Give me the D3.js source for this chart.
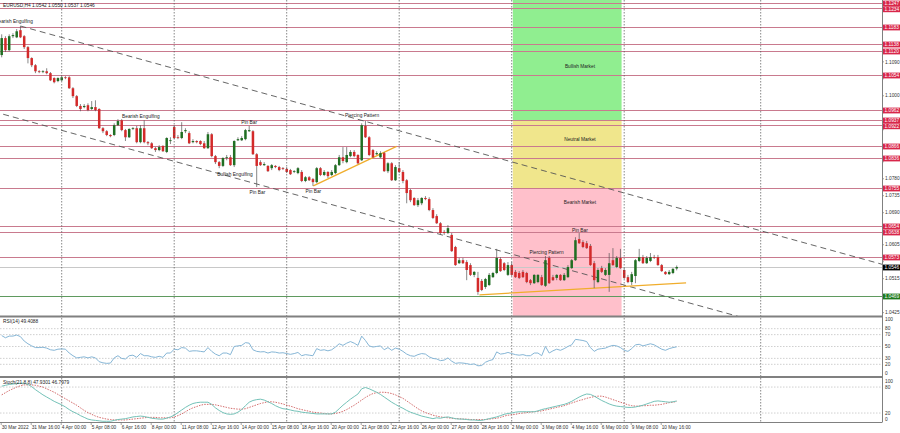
<!DOCTYPE html>
<html><head><meta charset="utf-8">
<script src="https://cdn.jsdelivr.net/npm/d3@7"></script>
<style>body{margin:0;background:#fff}svg{display:block;font-family:"Liberation Sans",Arial,sans-serif}</style>
</head><body><svg id="c" width="900" height="433"></svg>
<script>
// ---------------- DATA ----------------
const symbolTitle = "EURUSD,H4  1.0542 1.0550 1.0537 1.0546";
const rsiTitle = "RSI(14) 49.4088";
const stochTitle = "Stoch(21,8,8) 47.9301 46.7979";

const xLabelBars = [0,8,16,24,32,40,48,56,64,72,80,88,96,104,112,120,128,136,144,152,160,168,176];
const xLabels = ["30 Mar 2022","31 Mar 16:00","4 Apr 00:00","5 Apr 08:00","6 Apr 16:00","8 Apr 00:00","11 Apr 08:00","12 Apr 16:00","14 Apr 00:00","15 Apr 08:00","18 Apr 16:00","20 Apr 00:00","21 Apr 08:00","22 Apr 16:00","26 Apr 00:00","27 Apr 08:00","28 Apr 16:00","2 May 00:00","3 May 08:00","4 May 16:00","6 May 00:00","9 May 08:00","10 May 16:00"];
const gridBars = [16,46,76,106,136,166,202.4];

const open = [1.1108,1.1153,1.1121,1.1158,1.1155,1.1174,1.1158,1.1129,1.1100,1.1081,
1.1065,1.1063,1.1065,1.1060,1.1047,1.1039,1.1041,1.1049,1.1049,1.1020,
1.0999,1.0973,1.0970,1.0975,1.0965,1.0970,1.0965,1.0914,1.0906,1.0896,
1.0896,1.0922,1.0935,1.0909,1.0890,1.0912,1.0914,1.0877,1.0914,1.0877,
1.0874,1.0861,1.0856,1.0867,1.0851,1.0880,1.0917,1.0890,1.0888,1.0906,
1.0901,1.0877,1.0880,1.0880,1.0874,1.0861,1.0898,1.0840,1.0824,1.0814,
1.0835,1.0837,1.0816,1.0882,1.0882,1.0885,1.0906,1.0906,1.0845,1.0824,
1.0816,1.0814,1.0808,1.0814,1.0811,1.0808,1.0806,1.0803,1.0798,1.0795,
1.0798,1.0774,1.0784,1.0779,1.0771,1.0808,1.0790,1.0798,1.0790,1.0795,
1.0816,1.0837,1.0824,1.0840,1.0851,1.0843,1.0829,1.0920,1.0890,1.0856,
1.0845,1.0837,1.0848,1.0800,1.0821,1.0776,1.0808,1.0798,1.0776,1.0750,
1.0729,1.0710,1.0715,1.0729,1.0726,1.0697,1.0681,1.0662,1.0639,1.0636,
1.0631,1.0599,1.0556,1.0564,1.0559,1.0551,1.0525,1.0517,1.0509,1.0493,
1.0498,1.0519,1.0530,1.0567,1.0556,1.0525,1.0551,1.0533,1.0530,1.0533,
1.0530,1.0511,1.0503,1.0506,1.0519,1.0496,1.0570,1.0519,1.0517,1.0525,
1.0511,1.0519,1.0543,1.0564,1.0620,1.0612,1.0609,1.0602,1.0556,1.0506,
1.0543,1.0525,1.0525,1.0564,1.0546,1.0570,1.0538,1.0519,1.0506,1.0522,
1.0562,1.0572,1.0556,1.0562,1.0572,1.0572,1.0551,1.0533,1.0527,1.0530,
1.0542];
const high = [1.1163,1.1158,1.1163,1.1166,1.1177,1.1185,1.1161,1.1132,1.1102,1.1084,
1.1068,1.1068,1.1073,1.1063,1.1049,1.1049,1.1052,1.1052,1.1052,1.1023,
1.1002,1.0978,1.0978,1.0980,1.0986,1.0988,1.0967,1.0917,1.0909,1.0898,
1.0927,1.0938,1.0938,1.0912,1.0914,1.0917,1.0920,1.0922,1.0935,1.0880,
1.0877,1.0864,1.0869,1.0869,1.0890,1.0890,1.0922,1.0896,1.0930,1.0914,
1.0906,1.0885,1.0882,1.0882,1.0880,1.0904,1.0901,1.0843,1.0827,1.0837,
1.0843,1.0843,1.0882,1.0890,1.0893,1.0912,1.0920,1.0909,1.0848,1.0829,
1.0824,1.0816,1.0819,1.0816,1.0814,1.0811,1.0811,1.0806,1.0803,1.0811,
1.0803,1.0787,1.0787,1.0782,1.0811,1.0811,1.0803,1.0800,1.0803,1.0819,
1.0843,1.0864,1.0864,1.0856,1.0856,1.0845,1.0927,1.0933,1.0893,1.0859,
1.0853,1.0853,1.0851,1.0824,1.0824,1.0816,1.0824,1.0803,1.0779,1.0753,
1.0731,1.0729,1.0731,1.0734,1.0731,1.0702,1.0686,1.0665,1.0644,1.0657,
1.0636,1.0602,1.0570,1.0570,1.0564,1.0556,1.0535,1.0533,1.0514,1.0517,
1.0530,1.0533,1.0594,1.0572,1.0559,1.0559,1.0559,1.0538,1.0535,1.0538,
1.0533,1.0514,1.0527,1.0527,1.0525,1.0575,1.0575,1.0525,1.0527,1.0527,
1.0530,1.0551,1.0567,1.0625,1.0636,1.0617,1.0615,1.0607,1.0562,1.0543,
1.0549,1.0543,1.0583,1.0596,1.0575,1.0594,1.0543,1.0525,1.0533,1.0567,
1.0594,1.0578,1.0575,1.0583,1.0578,1.0578,1.0554,1.0535,1.0538,1.0543,
1.0550];
const low = [1.1102,1.1116,1.1118,1.1153,1.1153,1.1153,1.1124,1.1086,1.1076,1.1060,
1.1060,1.1060,1.1057,1.1039,1.1033,1.1036,1.1039,1.1044,1.1018,1.0994,
1.0970,1.0959,1.0967,1.0959,1.0962,1.0959,1.0912,1.0901,1.0893,1.0890,
1.0893,1.0920,1.0906,1.0880,1.0888,1.0909,1.0874,1.0874,1.0874,1.0869,
1.0859,1.0851,1.0853,1.0851,1.0848,1.0872,1.0885,1.0885,1.0885,1.0901,
1.0872,1.0874,1.0874,1.0869,1.0859,1.0859,1.0837,1.0819,1.0808,1.0811,
1.0829,1.0814,1.0811,1.0880,1.0880,1.0882,1.0904,1.0843,1.0758,1.0814,
1.0814,1.0798,1.0803,1.0808,1.0800,1.0803,1.0795,1.0790,1.0795,1.0792,
1.0771,1.0771,1.0774,1.0761,1.0768,1.0787,1.0787,1.0782,1.0787,1.0792,
1.0814,1.0821,1.0821,1.0837,1.0837,1.0819,1.0827,1.0888,1.0840,1.0835,
1.0843,1.0835,1.0798,1.0795,1.0774,1.0774,1.0795,1.0768,1.0715,1.0718,
1.0708,1.0705,1.0710,1.0723,1.0694,1.0673,1.0660,1.0633,1.0631,1.0633,
1.0586,1.0549,1.0554,1.0554,1.0511,1.0522,1.0519,1.0472,1.0482,1.0488,
1.0496,1.0517,1.0527,1.0533,1.0535,1.0522,1.0522,1.0517,1.0514,1.0517,
1.0503,1.0498,1.0501,1.0503,1.0496,1.0493,1.0501,1.0509,1.0511,1.0509,
1.0509,1.0517,1.0541,1.0562,1.0607,1.0596,1.0594,1.0549,1.0490,1.0503,
1.0530,1.0522,1.0480,1.0549,1.0543,1.0541,1.0514,1.0503,1.0498,1.0503,
1.0559,1.0554,1.0554,1.0559,1.0567,1.0549,1.0533,1.0525,1.0525,1.0527,
1.0537];
const close = [1.1153,1.1121,1.1158,1.1161,1.1171,1.1155,1.1129,1.1100,1.1081,1.1065,
1.1063,1.1065,1.1060,1.1041,1.1036,1.1047,1.1049,1.1047,1.1020,1.0999,
1.0973,1.0965,1.0973,1.0962,1.0970,1.0962,1.0914,1.0906,1.0896,1.0893,
1.0922,1.0933,1.0909,1.0890,1.0912,1.0914,1.0877,1.0914,1.0877,1.0874,
1.0861,1.0856,1.0864,1.0853,1.0888,1.0882,1.0888,1.0888,1.0904,1.0909,
1.0874,1.0880,1.0877,1.0872,1.0861,1.0898,1.0840,1.0824,1.0814,1.0835,
1.0837,1.0816,1.0880,1.0885,1.0888,1.0909,1.0909,1.0845,1.0814,1.0816,
1.0819,1.0800,1.0816,1.0811,1.0803,1.0806,1.0798,1.0792,1.0800,1.0808,
1.0774,1.0784,1.0776,1.0771,1.0808,1.0790,1.0798,1.0787,1.0798,1.0816,
1.0837,1.0827,1.0843,1.0851,1.0840,1.0821,1.0922,1.0890,1.0843,1.0837,
1.0848,1.0848,1.0800,1.0821,1.0776,1.0811,1.0798,1.0774,1.0742,1.0723,
1.0710,1.0723,1.0729,1.0726,1.0697,1.0676,1.0662,1.0636,1.0636,1.0649,
1.0588,1.0551,1.0564,1.0556,1.0538,1.0525,1.0533,1.0480,1.0485,1.0514,
1.0525,1.0530,1.0570,1.0535,1.0538,1.0551,1.0525,1.0519,1.0517,1.0519,
1.0506,1.0503,1.0525,1.0525,1.0498,1.0564,1.0503,1.0511,1.0525,1.0511,
1.0525,1.0546,1.0564,1.0617,1.0609,1.0599,1.0596,1.0551,1.0511,1.0538,
1.0533,1.0538,1.0556,1.0551,1.0570,1.0543,1.0517,1.0506,1.0527,1.0564,
1.0572,1.0556,1.0570,1.0572,1.0570,1.0551,1.0535,1.0527,1.0533,1.0541,
1.0546];

const rsi = [68.4,64.7,67.5,67.5,69.3,66.6,59.2,54.6,51.0,48.2,
48.2,48.7,47.3,44.5,43.6,45.5,45.9,45.5,39.0,34.5,
30.8,31.7,32.6,30.8,32.6,30.8,24.4,22.5,21.6,22.1,
30.8,34.5,29.9,29.0,34.5,35.4,31.7,38.1,34.5,34.5,
32.6,31.7,33.5,31.7,39.0,39.0,45.5,44.5,48.2,47.3,
41.8,42.7,42.7,41.8,40.9,48.2,41.8,37.2,34.5,39.0,
39.0,36.3,50.1,51.0,51.9,56.5,55.6,44.5,41.8,40.9,
41.3,39.0,40.9,40.4,39.0,39.5,38.1,36.8,38.1,40.0,
34.5,36.3,35.4,34.5,46.4,43.6,44.5,42.7,44.5,49.1,
54.6,51.9,55.6,58.3,55.6,51.9,67.5,60.1,51.0,49.1,
50.1,51.0,44.5,48.2,43.6,47.3,45.5,41.8,37.2,34.5,
33.5,36.3,38.1,37.2,32.6,29.9,29.0,26.2,27.1,30.8,
25.3,21.6,22.5,22.1,21.2,19.8,20.7,17.5,18.0,23.5,
26.2,28.0,40.9,37.2,38.1,40.0,38.1,36.3,35.4,36.3,
34.5,34.5,39.0,39.0,34.5,50.1,39.0,42.7,45.5,43.6,
46.4,50.1,52.8,62.0,61.1,60.1,58.3,48.2,41.8,45.5,
46.4,47.3,50.1,51.9,51.0,48.2,43.6,41.8,46.4,52.8,
53.7,51.0,52.8,54.6,52.8,49.1,45.5,43.6,46.4,48.2,
49.4];
const rsiLevels = [80,70,50,30,20];
const rsiTickLabels = [100,80,70,50,30,20,0];

const stochMain = [82,84,86,87,88,89,89,86,81,74,
68,62,57,52,47,43,39,34,28,23,
19,14,10,6,4,3,2,1,1,1,
3,5,6,7,9,11,12,13,12,10,
8,7,6,6,8,11,15,21,27,33,
38,42,44,45,45,45,40,32,26,21,
18,17,18,22,28,37,45,49,51,52,
50,46,42,37,33,30,29,27,25,24,
22,21,20,19,18,18,18,18,18,22,
30,38,45,52,58,64,76,79,76,72,
68,63,57,51,45,40,35,31,26,22,
19,16,13,11,9,7,9,8,10,11,
9,7,6,6,5,4,4,3,3,5,
7,9,11,14,17,19,20,22,23,23,
23,23,23,25,28,30,32,34,36,38,
40,43,47,52,57,61,64,63,59,54,
49,45,41,38,36,35,34,33,33,34,
36,38,41,44,47,48,47,46,45,46,
47.9];
const stochSignal = [62,67,72,76,80,83,85,85,85,84,
82,80,76,72,68,63,58,53,48,43,
38,32,26,21,17,13,10,8,6,5,
4,4,4,4,5,6,7,8,9,10,
10,10,9,9,9,9,11,14,18,23,
28,32,35,38,40,40,40,39,37,35,
33,31,30,29,29,30,33,36,39,42,
44,46,46,45,43,41,38,36,33,30,
28,26,24,22,21,20,19,18,18,19,
21,24,28,33,38,44,50,56,61,65,
67,68,68,67,65,62,58,54,48,42,
36,30,25,21,18,15,13,11,10,9,
8,7,7,6,6,5,5,5,5,5,
6,7,8,10,13,15,16,17,19,20,
21,22,23,24,25,27,29,31,33,35,
37,40,43,46,49,51,54,56,58,59,
59,57,54,51,48,45,42,39,37,36,
36,37,37,38,38,39,40,42,44,45,
46.8];
const stochLevels = [80,20];
const stochTickLabels = [100,80,20,0];

const priceTicks = [1.0425,1.0470,1.0515,1.0560,1.0605,1.0650,1.0690,1.0735,1.0780,1.0825,1.0870,1.0910,1.0955,1.1000,1.1045,1.1090,1.1135,1.1180,1.1225];
const levelPrices = [1.1247,1.1234,1.1183,1.1138,1.1120,1.1054,1.0962,1.0937,1.0922,1.0866,1.0836,1.0755,1.0654,1.0638,1.0573];
const bidPrice = 1.0546;
const supportPrice = 1.0469;

const zoneNames = ["Bullish Market","Neutral Market","Bearish Market"];
const zoneTop = [1.1260,1.0935,1.0755];
const zoneBottom = [1.0935,1.0755,1.0410];
const zoneColors = ["#90ee90","#f0e68c","#ffc0cb"];
const zoneBars = [136.3,165.3];
const zoneLabelBar = 154.2;
const zoneLabelPrice = [1.1078,1.0885,1.0718];

// dashed channel lines: [bar1, price1, bar2, price2]
const channelLines = [[5,1.1185,234.8,1.0553],[0.4,1.0951,198.2,1.0410]];
// orange trend lines
const trendLines = [[83.1,1.0761,105.3,1.0866],[127.4,1.0472,182.5,1.0504]];

const noteTexts = ["Bearish Engulfing","Bearish Engulfing","Pin Bar","Bullish Engulfing","Pin Bar","Pin Bar","Piercing Pattern","Piercing Pattern","Pin Bar"];
const noteBars = [3.3,37.1,66,62.2,68.2,83.1,96.1,145.3,154.2];
const notePrices = [1.1197,1.0946,1.0930,1.0792,1.0744,1.0747,1.0949,1.0584,1.0642];

// ---------------- DRAW ----------------
const svg = d3.select("#c");
const plotR = 882;
const main = {top:0,bot:316}, rsiP = {top:317,bot:376}, stP = {top:378,bot:422};
const x = d3.scaleLinear().domain([0,235]).range([1.7,1.7+3.75*235]);
const y = d3.scaleLinear().domain([1.0416,1.1254]).range([316,0]);
const yR = d3.scaleLinear().domain([0,100]).range([376.2,316.8]);
const yS = d3.scaleLinear().domain([0,100]).range([421.7,378.4]);
const fs = 4.8;

const defs = svg.append("defs");
defs.append("clipPath").attr("id","cm").append("rect").attr("x",0).attr("y",main.top).attr("width",plotR).attr("height",main.bot-main.top);
defs.append("clipPath").attr("id","cr").append("rect").attr("x",0).attr("y",rsiP.top).attr("width",plotR).attr("height",rsiP.bot-rsiP.top);
defs.append("clipPath").attr("id","cs").append("rect").attr("x",0).attr("y",stP.top).attr("width",plotR).attr("height",stP.bot-stP.top);

const gm = svg.append("g").attr("clip-path","url(#cm)");

// zones
gm.selectAll("rect.zone").data(zoneNames).join("rect")
  .attr("x",x(zoneBars[0])).attr("width",x(zoneBars[1])-x(zoneBars[0]))
  .attr("y",(d,i)=>y(zoneTop[i])).attr("height",(d,i)=>y(zoneBottom[i])-y(zoneTop[i]))
  .attr("fill",(d,i)=>zoneColors[i]);

// vertical grid (all panels)
svg.selectAll("line.vg").data(gridBars).join("line")
  .attr("x1",d=>x(d)).attr("x2",d=>x(d)).attr("y1",0).attr("y2",stP.bot)
  .attr("stroke","#555").attr("stroke-width",0.7).attr("stroke-dasharray","1.5,1.5");

// horizontal levels
gm.selectAll("line.lv").data(levelPrices).join("line")
  .attr("x1",0).attr("x2",plotR).attr("y1",d=>Math.round(y(d))+0.5).attr("y2",d=>Math.round(y(d))+0.5)
  .attr("stroke","#c97a8e").attr("stroke-width",1);
gm.append("line").attr("x1",0).attr("x2",plotR).attr("y1",Math.round(y(bidPrice))+0.5).attr("y2",Math.round(y(bidPrice))+0.5).attr("stroke","#c8c8c8").attr("stroke-width",1);
gm.append("line").attr("x1",0).attr("x2",plotR).attr("y1",Math.round(y(supportPrice))+0.5).attr("y2",Math.round(y(supportPrice))+0.5).attr("stroke","#5f9a5f").attr("stroke-width",1);

// channel lines
gm.selectAll("line.ch").data(channelLines).join("line")
  .attr("x1",d=>x(d[0])).attr("y1",d=>y(d[1])).attr("x2",d=>x(d[2])).attr("y2",d=>y(d[3]))
  .attr("stroke","#555").attr("stroke-width",0.9).attr("stroke-dasharray","6,4");

// trend lines
gm.selectAll("line.tl").data(trendLines).join("line")
  .attr("x1",d=>x(d[0])).attr("y1",d=>y(d[1])).attr("x2",d=>x(d[2])).attr("y2",d=>y(d[3]))
  .attr("stroke","#f0ad2c").attr("stroke-width",1.3);

// candles
const idx = d3.range(open.length);
gm.selectAll("line.wk").data(idx).join("line")
  .attr("x1",i=>x(i)).attr("x2",i=>x(i)).attr("y1",i=>y(high[i])).attr("y2",i=>y(low[i]))
  .attr("stroke","#555").attr("stroke-width",0.7);
gm.selectAll("rect.bd").data(idx).join("rect")
  .attr("x",i=>x(i)-1.25).attr("width",2.5)
  .attr("y",i=>y(Math.max(open[i],close[i])))
  .attr("height",i=>Math.max(0.8,Math.abs(y(open[i])-y(close[i]))))
  .attr("fill",i=>close[i]>=open[i]?"#1f6e22":"#d32a2a");

// notes
gm.selectAll("text.nt").data(noteTexts).join("text")
  .attr("x",(d,i)=>x(noteBars[i])).attr("y",(d,i)=>y(notePrices[i])+1.7)
  .attr("text-anchor","middle").attr("font-size",fs).attr("fill","#222").text(d=>d);
gm.selectAll("text.zn").data(zoneNames).join("text")
  .attr("x",x(zoneLabelBar)).attr("y",(d,i)=>y(zoneLabelPrice[i])+1.7)
  .attr("text-anchor","middle").attr("font-size",fs).attr("fill","#222").text(d=>d);

// header
svg.append("text").attr("x",3).attr("y",6.5).attr("font-size",fs).attr("fill","#222").text(symbolTitle);

// RSI panel
const gr = svg.append("g");
gr.selectAll("line.rl").data(rsiLevels).join("line")
  .attr("x1",0).attr("x2",plotR).attr("y1",d=>yR(d)).attr("y2",d=>yR(d))
  .attr("stroke","#bbb").attr("stroke-width",0.7).attr("stroke-dasharray","1.5,1.5");
gr.append("path").attr("clip-path","url(#cr)").datum(rsi)
  .attr("d",d3.line().x((d,i)=>x(i)).y(d=>yR(d)))
  .attr("fill","none").attr("stroke","#86b6d6").attr("stroke-width",1);
gr.append("text").attr("x",3).attr("y",322.5).attr("font-size",fs).attr("fill","#222").text(rsiTitle);

// Stoch panel
const gs = svg.append("g");
gs.selectAll("line.sl").data(stochLevels).join("line")
  .attr("x1",0).attr("x2",plotR).attr("y1",d=>yS(d)).attr("y2",d=>yS(d))
  .attr("stroke","#bbb").attr("stroke-width",0.7).attr("stroke-dasharray","1.5,1.5");
gs.append("path").attr("clip-path","url(#cs)").datum(stochSignal)
  .attr("d",d3.line().x((d,i)=>x(i)).y(d=>yS(d)))
  .attr("fill","none").attr("stroke","#c84848").attr("stroke-width",0.8).attr("stroke-dasharray","1.5,1.2");
gs.append("path").attr("clip-path","url(#cs)").datum(stochMain)
  .attr("d",d3.line().x((d,i)=>x(i)).y(d=>yS(d)))
  .attr("fill","none").attr("stroke","#74c2b8").attr("stroke-width",1);
gs.append("text").attr("x",3).attr("y",383.5).attr("font-size",fs).attr("fill","#222").text(stochTitle);

// separators & frame
svg.append("line").attr("x1",0).attr("x2",plotR).attr("y1",316.5).attr("y2",316.5).attr("stroke","#808080").attr("stroke-width",2);
svg.append("line").attr("x1",0).attr("x2",plotR).attr("y1",377).attr("y2",377).attr("stroke","#808080").attr("stroke-width",2);
svg.append("line").attr("x1",0).attr("x2",plotR).attr("y1",422.5).attr("y2",422.5).attr("stroke","#808080").attr("stroke-width",1);
svg.append("line").attr("x1",plotR+0.5).attr("x2",plotR+0.5).attr("y1",0).attr("y2",422.5).attr("stroke","#808080").attr("stroke-width",1);

// price tags with simple collision avoidance
const tags = levelPrices.map(p=>({p,bg:"#d8264a"}))
  .concat([{p:bidPrice,bg:"#000"},{p:supportPrice,bg:"#1d7a1d"}])
  .map(t=>({...t,yy:Math.round(y(t.p))+0.5}))
  .sort((a,b)=>a.yy-b.yy);
const TH = 5.8;
let prev = -Infinity;
tags.forEach(t=>{ t.yy = Math.max(t.yy, TH/2, prev+TH); prev = t.yy; });

// price axis ticks (labels hidden where a price tag covers them)
svg.selectAll("line.ptk").data(priceTicks).join("line")
  .attr("x1",plotR).attr("x2",plotR+2).attr("y1",d=>y(d)).attr("y2",d=>y(d)).attr("stroke","#808080").attr("stroke-width",0.7);
const visibleTicks = priceTicks.filter(p=>!tags.some(t=>Math.abs(t.yy-y(p))<4.6));
svg.selectAll("text.pt").data(visibleTicks).join("text")
  .attr("x",plotR+3).attr("y",d=>y(d)+1.7).attr("font-size",fs).attr("fill","#333").text(d=>d.toFixed(4));

tags.forEach(t=>{
  svg.append("rect").attr("x",plotR+1).attr("y",t.yy-TH/2).attr("width",900-plotR-1).attr("height",TH).attr("fill",t.bg);
  svg.append("text").attr("x",plotR+2.5).attr("y",t.yy+1.7).attr("font-size",fs).attr("fill","#fff").text(t.p.toFixed(4));
});

// RSI / Stoch axis labels
svg.selectAll("text.rt").data(rsiTickLabels).join("text")
  .attr("x",plotR+3).attr("y",d=>Math.min(Math.max(yR(d),319.5),373.7)+1.7).attr("font-size",fs).attr("fill","#333").text(d=>d);
svg.selectAll("text.st").data(stochTickLabels).join("text")
  .attr("x",plotR+3).attr("y",d=>Math.min(Math.max(yS(d),381),419.7)+1.7).attr("font-size",fs).attr("fill","#333").text(d=>d);

// time axis
svg.selectAll("line.xt").data(xLabelBars).join("line")
  .attr("x1",d=>x(d)-0.5).attr("x2",d=>x(d)-0.5).attr("y1",422.5).attr("y2",425).attr("stroke","#808080").attr("stroke-width",0.7);
svg.selectAll("text.xl").data(xLabels).join("text")
  .attr("x",(d,i)=>x(xLabelBars[i])).attr("y",429).attr("font-size",fs).attr("fill","#333").text(d=>d);
</script></body></html>
